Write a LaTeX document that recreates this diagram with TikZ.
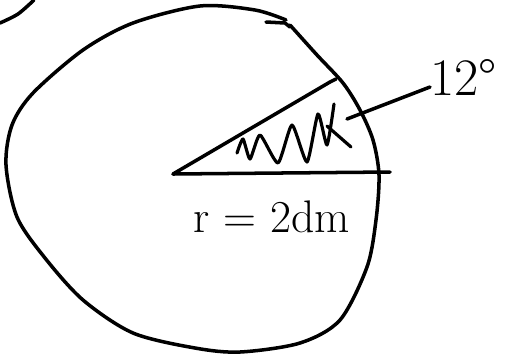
\documentclass[tikz,border=0pt]{standalone}
\usepackage{tikz}
\usetikzlibrary{positioning}
\tikzset{
  pen/.style={line width=2pt, line cap=round, line join=round, draw=black},
  handtext/.style={inner sep=0pt, font=\fontsize{26}{30}\selectfont}
}
\begin{document}
\begin{tikzpicture}[x=0.02cm, y=-0.02cm]
  \useasboundingbox (0,0) rectangle (510,356);
  % corner of the next figure
  \draw[pen] plot[smooth] coordinates {(0,23) (18,14) (34,0)};
  % the disc
  \draw[pen] plot[smooth] coordinates {(290,25) (317,55) (343,83) (360,110)
    (373,140) (379,175) (376,220) (367,267) (340,320) (300,343) (240,352)
    (195,348) (133,333) (83,300) (45,258) (17,217) (6,165) (12,125)
    (33,93) (83,50) (133,23) (200,6) (255,10) (286,20)};
  \draw[pen] (266,22) -- (285,23) -- (290,27);
  % sector
  \coordinate (mid) at (173,174);
  \coordinate (rim) at (390,172);
  \coordinate (arm) at (330,82);
  \draw[pen] (mid) -- (rim);
  \draw[pen] (mid) -- (arm) -- (336,79);
  % shading of the sector
  \draw[pen, line width=1.8pt] plot[smooth, tension=0.35] coordinates {(237,153)
    (243,139) (250,159) (260,135) (278,163) (292,125) (307,162) (318,114)
    (327,145) (334,104)};
  \draw[pen, line width=1.8pt] (327,126) -- (351,147);
  \coordinate (tip) at (347,119);
  % labels
  \node[handtext, anchor=base west, font=\fontsize{30}{34}\selectfont] (deg) at (430,95) {12\textdegree};
  \draw[pen] (tip) -- ([yshift=-0.2cm]deg.west);
  \node[handtext, anchor=base] (rad) at (272,232) {r = 2dm};
\end{tikzpicture}
\end{document}
